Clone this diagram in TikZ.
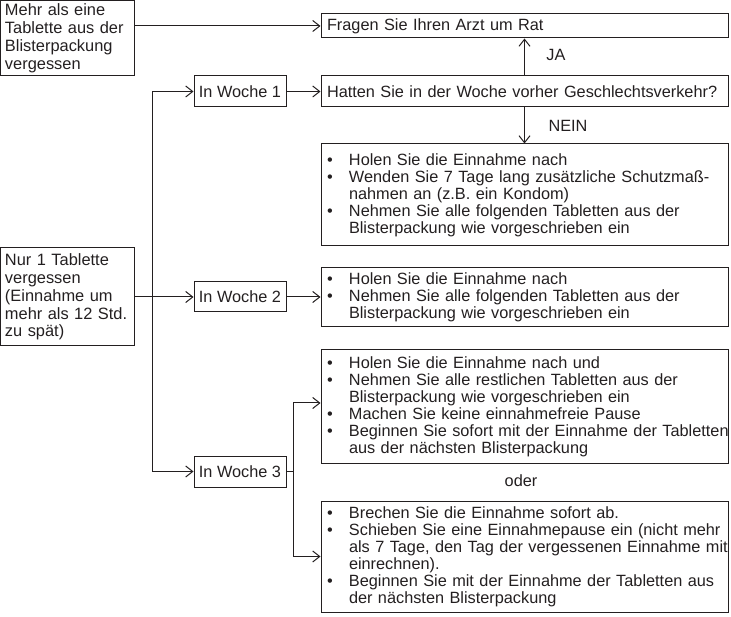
\documentclass[tikz,border=0pt]{standalone}
\usepackage{fontspec}
\setmainfont{Liberation Sans}
\usetikzlibrary{arrows.meta}
\definecolor{ink}{RGB}{35,31,32}
\newcommand\bi[1]{\mbox{\makebox[22pt][l]{\textbullet}#1}}
\newcommand\bc[1]{\mbox{\hspace*{22pt}#1}}
\begin{document}
\begin{tikzpicture}[x=1pt,y=-1pt,line width=1pt,
  box/.style={draw=ink,text=ink,rectangle,inner sep=0pt,font=\fontsize{16.3}{17}\selectfont},
  big/.style={box,minimum width=407pt,text width=395pt,inner xsep=6pt,align=left},
  lbox/.style={box,minimum width=133.5pt,text width=124.5pt,inner xsep=4.5pt,align=left,font=\fontsize{16.4}{17.8}\selectfont},
  wk/.style={box,minimum width=92pt,minimum height=31pt},
  lbl/.style={text=ink,inner sep=0pt,font=\fontsize{16.3}{17}\selectfont},
  arr/.style={draw=ink,line join=miter,-{Straight Barb[length=7pt,width=11pt]}},
  ln/.style={draw=ink}]
\useasboundingbox (0,0) rectangle (731,617);

\node[lbox,minimum height=75.5pt] (mehr) at (67.25,38.25) {\mbox{Mehr als eine}\\\mbox{Tablette aus der}\\\mbox{Blisterpackung}\\\mbox{vergessen}};
\node[big,minimum height=24pt] (fragen) at (524.5,26) {\mbox{Fragen Sie Ihren Arzt um Rat}};
\node[big,minimum height=31pt] (hatten) at (524.5,91.5) {\mbox{Hatten Sie in der Woche vorher Geschlechtsverkehr?}};
\node[wk] (w1) at (240,91.5) {In Woche 1};
\node[lbl] (ja) at (556,55) {JA};
\node[lbl] (nein) at (568,126) {NEIN};
\node[big,minimum height=102pt] (b1) at (524.5,195) {\bi{Holen Sie die Einnahme nach}\\
 \bi{Wenden Sie 7 Tage lang zusätzliche Schutzmaß-}\\
 \bc{nahmen an (z.B. ein Kondom)}\\
 \bi{Nehmen Sie alle folgenden Tabletten aus der}\\
 \bc{Blisterpackung wie vorgeschrieben ein}};

\node[lbox,minimum height=98pt] (nur) at (67.25,297) {\mbox{Nur 1 Tablette}\\\mbox{vergessen}\\\mbox{(Einnahme um}\\\mbox{mehr als 12 Std.}\\\mbox{zu spät)}};
\node[wk,minimum height=30pt] (w2) at (240,297) {In Woche 2};
\node[big,minimum height=59pt] (b2) at (524.5,297.5) {\bi{Holen Sie die Einnahme nach}\\
 \bi{Nehmen Sie alle folgenden Tabletten aus der}\\
 \bc{Blisterpackung wie vorgeschrieben ein}};

\node[big,minimum height=113pt] (b3) at (524.5,406.5) {\bi{Holen Sie die Einnahme nach und}\\
 \bi{Nehmen Sie alle restlichen Tabletten aus der}\\
 \bc{Blisterpackung wie vorgeschrieben ein}\\
 \bi{Machen Sie keine einnahmefreie Pause}\\
 \bi{Beginnen Sie sofort mit der Einnahme der Tabletten}\\
 \bc{aus der nächsten Blisterpackung}};
\node[wk] (w3) at (240,471.5) {In Woche 3};
\node[lbl] (oder) at (521,481) {oder};
\node[big,minimum height=111pt] (b4) at (524.5,556.5) {\bi{Brechen Sie die Einnahme sofort ab.}\\
 \bi{Schieben Sie eine Einnahmepause ein (nicht mehr}\\
 \bc{als 7 Tage, den Tag der vergessenen Einnahme mit}\\
 \bc{einrechnen).}\\
 \bi{Beginnen Sie mit der Einnahme der Tabletten aus}\\
 \bc{der nächsten Blisterpackung}};

\coordinate (spine) at (152,0);
\coordinate (fork) at (293,0);

\draw[arr] (mehr.east |- fragen.west) -- (fragen.west);
\draw[arr] (w1.east) -- (hatten.west);
\draw[arr] (hatten.north) -- (fragen.south);
\draw[arr] (hatten.south) -- (b1.north);
\draw[arr] (spine |- w3.west) -- (spine |- w1.west) -- (w1.west);
\draw[arr] (spine |- w3.west) -- (w3.west);
\draw[arr] (nur.east) -- (w2.west);
\draw[arr] (w2.east) -- (b2.west |- w2.east);
\draw[ln] (w3.east) -- (fork |- w3.east);
\draw[arr] (fork |- w3.east) |- ([yshift=3.5pt]b3.west);
\draw[arr] (fork |- w3.east) |- (b4.west);
\end{tikzpicture}
\end{document}
